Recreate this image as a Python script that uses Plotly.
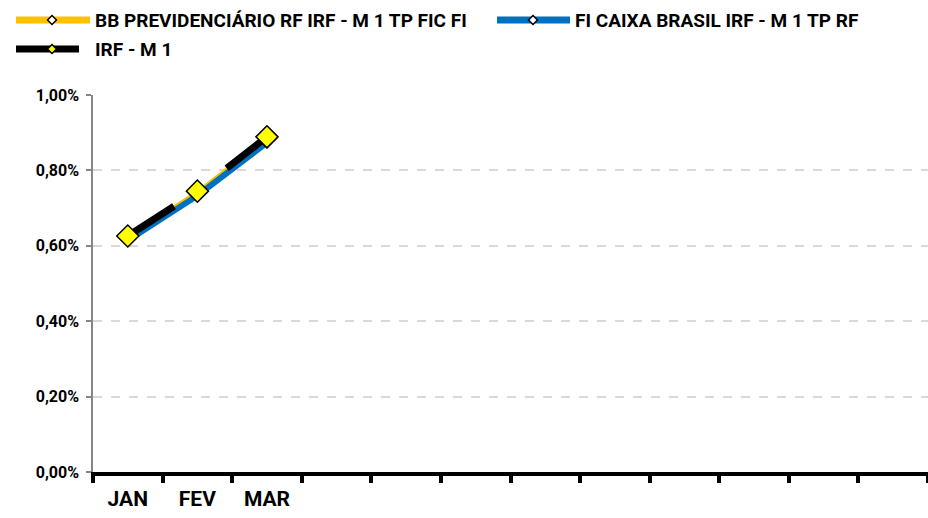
import plotly.graph_objects as go

months = ["JAN", "FEV", "MAR", "ABR", "MAI", "JUN", "JUL", "AGO", "SET", "OUT", "NOV", "DEZ"]
tick_labels = ["JAN", "FEV", "MAR", "", "", "", "", "", "", "", "", ""]
obs_months = ["JAN", "FEV", "MAR"]
bb_prev = [0.00623, 0.00742, 0.00885]
caixa = [0.00614, 0.00733, 0.00874]
irf_m1 = [0.00626, 0.00745, 0.00889]
names = ["BB PREVIDENCIÁRIO RF IRF - M 1 TP FIC FI", "FI CAIXA BRASIL IRF - M 1 TP RF", "IRF - M 1"]
y_ticks = [0, 0.002, 0.004, 0.006, 0.008, 0.010]

FONT = "Roboto, Lato, sans-serif"
W, H = 928, 518
L, R, T, B = 93, 0, 95, 46
PW, PH = W - L - R, H - T - B


def px(x):
    return (x - L) / PW


def py(y):
    return (H - B - y) / PH


fig = go.Figure()
fig.add_trace(go.Scatter(
    x=obs_months, y=bb_prev, name=names[0], mode="lines+markers",
    line=dict(color="#FFC000", width=4),
    marker=dict(symbol="diamond", size=8, color="white", line=dict(color="black", width=1.5)),
))
fig.add_trace(go.Scatter(
    x=obs_months, y=caixa, name=names[1], mode="lines+markers",
    line=dict(color="#0070C0", width=6),
    marker=dict(symbol="diamond", size=8, color="white", line=dict(color="black", width=1.5)),
))
fig.add_trace(go.Scatter(
    x=obs_months, y=irf_m1, name=names[2], mode="lines+markers",
    line=dict(color="black", width=7, dash="55px,65px"),
    marker=dict(symbol="diamond", size=17, color="#FFFF00", line=dict(color="black", width=1.5)),
))

# custom legend
shapes = []
annotations = []
legend_items = [
    (names[0], "#FFC000", "white", 16, 90, 52, 20, 93),
    (names[1], "#0070C0", "white", 497, 570, 533, 20, 573),
    (names[2], "black", "#FFFF00", 16, 79, 52, 49, 93),
]
for name, lc, mc, x0, x1, xm, yy, xt in legend_items:
    shapes.append(dict(type="line", xref="paper", yref="paper",
                       x0=px(x0), x1=px(x1), y0=py(yy), y1=py(yy),
                       line=dict(color=lc, width=7), layer="above"))
    d = 4.5
    path = "M {a},{b} L {c},{e} L {f},{g} L {h},{i} Z".format(
        a=px(xm - d), b=py(yy), c=px(xm), e=py(yy - d),
        f=px(xm + d), g=py(yy), h=px(xm), i=py(yy + d))
    shapes.append(dict(type="path", xref="paper", yref="paper", path=path,
                       fillcolor=mc, line=dict(color="black", width=1.5), layer="above"))
    annotations.append(dict(text=name, xref="paper", yref="paper", x=px(xt), y=py(yy),
                            xanchor="left", yanchor="middle", showarrow=False,
                            font=dict(family=FONT, size=19, color="black", weight="bold")))

fig.update_layout(
    width=W, height=H,
    margin=dict(l=L, r=R, t=T, b=B),
    paper_bgcolor="white", plot_bgcolor="white",
    showlegend=False,
    separators=",.",
    shapes=shapes,
    annotations=annotations,
    font=dict(family=FONT, color="black"),
)
fig.update_xaxes(
    type="category", categoryorder="array", categoryarray=months,
    range=[-0.5, 11.5],
    tickmode="array", tickvals=months, ticktext=tick_labels,
    tickson="boundaries",
    ticks="outside", ticklen=7, tickwidth=4, tickcolor="black",
    showline=True, linecolor="black", linewidth=4,
    showgrid=False, zeroline=False,
    ticklabelstandoff=5,
    tickfont=dict(family=FONT, size=21, color="black", weight="bold"),
)
fig.update_yaxes(
    range=[0, 0.010],
    tickmode="array", tickvals=y_ticks, tickformat=".2%",
    ticks="outside", ticklen=5, tickwidth=1.5, tickcolor="#868686",
    showline=True, linecolor="#868686", linewidth=1.5,
    showgrid=True, gridcolor="#D9D9D9", gridwidth=1.5, griddash="dash",
    zeroline=False,
    ticklabelstandoff=4,
    tickfont=dict(family=FONT, size=16, color="black", weight="bold"),
)

fig.write_html("out.html", config={"displayModeBar": False},
               post_script="document.body.style.margin='0px';")
